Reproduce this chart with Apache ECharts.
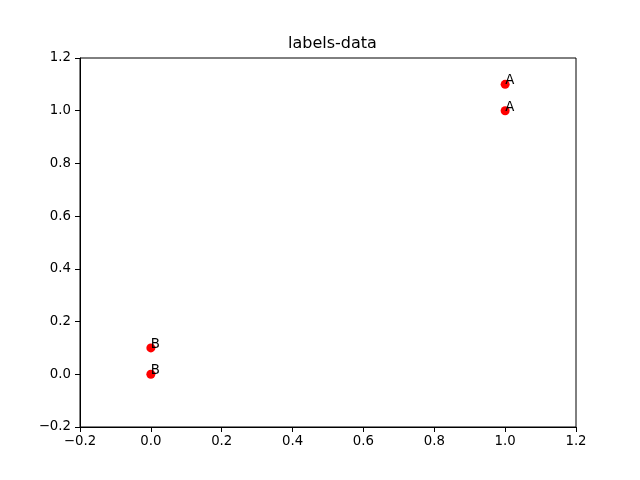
<!DOCTYPE html>
<html><head><meta charset="utf-8">
<script src="https://cdn.jsdelivr.net/npm/echarts@6/dist/echarts.min.js"></script>
<style>html,body{margin:0;padding:0;background:#fff}#c{width:640px;height:480px}</style>
</head><body><div id="c"></div>
<script>
const xValues = [1, 1, 0, 0];
const yValues = [1.1, 1.0, 0.1, 0.0];
const pointLabels = ['A', 'A', 'B', 'B'];
const titleText = 'labels-data';

const fmt = v => { const s = (Math.round(v * 10) / 10).toFixed(1); return s.replace('-', '\u2212'); };
const font = 'DejaVu Sans';
const chart = echarts.init(document.getElementById('c'), null, {renderer: 'canvas'});
chart.setOption({
  animation: false,
  backgroundColor: '#fff',
  title: {text: titleText, left: 283, top: 31,
    textStyle: {fontFamily: font, fontSize: 16, fontWeight: 'normal', color: '#000'}},
  grid: {left: 80, right: 64, top: 58, bottom: 53, show: true, borderColor: '#000', borderWidth: 1, backgroundColor: 'transparent'},
  xAxis: {type: 'value', min: -0.2, max: 1.2, interval: 0.2,
    axisLine: {show: true, onZero: false, lineStyle: {color: '#000'}}, splitLine: {show: false},
    axisTick: {show: true, length: 5, lineStyle: {color: '#000'}},
    axisLabel: {formatter: fmt, margin: 8, color: '#000', fontFamily: font, fontSize: 13.3, showMinLabel: true, showMaxLabel: true}},
  yAxis: {type: 'value', min: -0.2, max: 1.2, interval: 0.2,
    axisLine: {show: true, onZero: false, lineStyle: {color: '#000'}}, splitLine: {show: false},
    axisTick: {show: true, length: 5, lineStyle: {color: '#000'}},
    axisLabel: {formatter: fmt, margin: 9, color: '#000', fontFamily: font, fontSize: 13.3, showMinLabel: true, showMaxLabel: true}},
  series: [{
    type: 'scatter', symbol: 'circle', symbolSize: 9,
    itemStyle: {color: '#ff0000', opacity: 1},
    data: xValues.map((x, i) => ({value: [x, yValues[i]], label: {formatter: pointLabels[i]}})),
    label: {show: true, position: [4.5, 7.5], align: 'left', verticalAlign: 'bottom',
      color: '#000', fontFamily: font, fontSize: 13.3}
  }]
});
</script></body></html>
